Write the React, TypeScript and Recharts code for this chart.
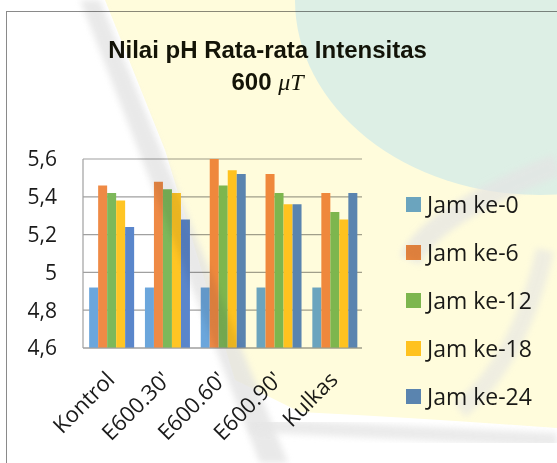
import React from 'react';
import { BarChart, Bar, XAxis, YAxis, CartesianGrid, Legend } from 'recharts';

const categories = ['Kontrol', "E600.30'", "E600.60'", "E600.90'", 'Kulkas'];
const jam0 = [4.92, 4.92, 4.92, 4.92, 4.92];
const jam6 = [5.46, 5.48, 5.6, 5.52, 5.42];
const jam12 = [5.42, 5.44, 5.46, 5.42, 5.32];
const jam18 = [5.38, 5.42, 5.54, 5.36, 5.28];
const jam24 = [5.24, 5.28, 5.52, 5.36, 5.42];
const yTicks = [4.6, 4.8, 5, 5.2, 5.4, 5.6];

const seriesNames = ['Jam ke-0', 'Jam ke-6', 'Jam ke-12', 'Jam ke-18', 'Jam ke-24'];
const seriesValues = [jam0, jam6, jam12, jam18, jam24];
const seriesColors = ['#6BA6DC', '#EF8A45', '#7DB85A', '#FFC524', '#5A86CB'];

const data = categories.map((c, i) => {
  const row: Record<string, string | number> = { name: c };
  seriesNames.forEach((s, k) => {
    row[s] = seriesValues[k][i];
  });
  return row;
});

const FONT = '"Open Sans", "Noto Sans", sans-serif';

const fmt = (v: number) => (v === 5 ? '5' : v.toFixed(1).replace('.', ','));

const XTick = (props: any) => {
  const { x, y, payload } = props;
  const ax = x + 5;
  const ay = y + 25;
  return (
    <text
      x={ax}
      y={ay}
      transform={`rotate(-45, ${ax}, ${ay})`}
      textAnchor="end"
      fontFamily={FONT}
      fontSize={22}
      fill="#1a1a1a"
    >
      {payload.value}
    </text>
  );
};

const LegendContent = () => (
  <div style={{ fontFamily: FONT, fontSize: 23, color: '#1a1a1a' }}>
    {seriesNames.map((s, k) => (
      <div key={s} style={{ height: 48.2, display: 'flex', alignItems: 'center', whiteSpace: 'nowrap' }}>
        <span style={{ width: 15, height: 15, background: seriesColors[k], display: 'inline-block', marginRight: 6 }} />
        <span style={{ lineHeight: '23px' }}>{s}</span>
      </div>
    ))}
  </div>
);

export default function App() {
  return (
    <div style={{ position: 'fixed', left: 0, top: 0, width: 557, height: 463, overflow: 'hidden', background: '#ffffff' }}>
      <div
        style={{
          position: 'absolute',
          left: 6,
          top: 11,
          width: 700,
          height: 600,
          border: '1.5px solid #8a8a8a',
          boxSizing: 'border-box',
        }}
      />
      <div
        style={{
          position: 'absolute',
          left: 0,
          width: 557,
          top: 34,
          textAlign: 'center',
          fontFamily: '"Liberation Sans", Arial, sans-serif',
          fontWeight: 'bold',
          fontSize: 24,
          lineHeight: '32px',
          color: '#141408',
        }}
      >
        <div style={{ marginLeft: -22 }}>Nilai pH Rata-rata Intensitas</div>
        <div style={{ marginLeft: -22 }}>
          600{' '}
          <span style={{ fontFamily: '"Liberation Serif", "DejaVu Serif", serif', fontStyle: 'italic', fontWeight: 'normal' }}>
            μT
          </span>
        </div>
      </div>
      <div style={{ position: 'absolute', left: 0, top: 0 }}>
        <BarChart
          width={557}
          height={463}
          data={data}
          margin={{ top: 159, right: 195, left: 0, bottom: 15 }}
          barCategoryGap="11%"
          barGap={0}
        >
          <CartesianGrid vertical={false} stroke="#a0a0a0" strokeWidth={1.2} />
          <XAxis
            dataKey="name"
            height={100}
            interval={0}
            tick={<XTick />}
            tickLine={false}
            axisLine={{ stroke: '#a0a0a0', strokeWidth: 1.2 }}
          />
          <YAxis
            width={83}
            domain={[4.6, 5.6]}
            ticks={yTicks}
            tickFormatter={fmt}
            tickLine={false}
            tickSize={0}
            tickMargin={26}
            axisLine={{ stroke: '#a0a0a0', strokeWidth: 1.2 }}
            tick={{ fontFamily: FONT, fontSize: 21, fill: '#1a1a1a' }}
            interval={0}
          />
          <Legend
            layout="horizontal"
            verticalAlign="middle"
            align="center"
            content={<LegendContent />}
            wrapperStyle={{ left: 406, top: 180, width: 150, height: 245 }}
          />
          {seriesNames.map((s, k) => (
            <Bar key={s} dataKey={s} fill={seriesColors[k]} isAnimationActive={false} />
          ))}
        </BarChart>
      </div>
      <svg
        width={557}
        height={463}
        style={{ position: 'absolute', left: 0, top: 0, pointerEvents: 'none', mixBlendMode: 'multiply' }}
      >
        <defs>
          <filter id="soft" x="-20%" y="-20%" width="140%" height="140%">
            <feGaussianBlur stdDeviation="3" />
          </filter>
        </defs>
        <path d="M105,0 L557,0 L557,428 Q420,418 300,412 L235,380 L165,150 Z" fill="#FFFCDC" />
        <ellipse cx={540} cy={0} rx={245} ry={195} fill="#DDEFE5" />
        <path d="M557,165 Q430,215 410,260" stroke="#E4E4E4" strokeWidth={22} fill="none" opacity={0.7} filter="url(#soft)" />
        <path d="M545,250 Q520,360 460,410" stroke="#E4E4E4" strokeWidth={18} fill="none" opacity={0.6} filter="url(#soft)" />
        <polygon points="80,0 100,0 288,463 260,463" fill="#E2E2E2" opacity={0.75} filter="url(#soft)" />
        <path d="M250,425 Q400,432 557,440" stroke="#E6E6E6" strokeWidth={14} fill="none" opacity={0.8} filter="url(#soft)" />
      </svg>
    </div>
  );
}
